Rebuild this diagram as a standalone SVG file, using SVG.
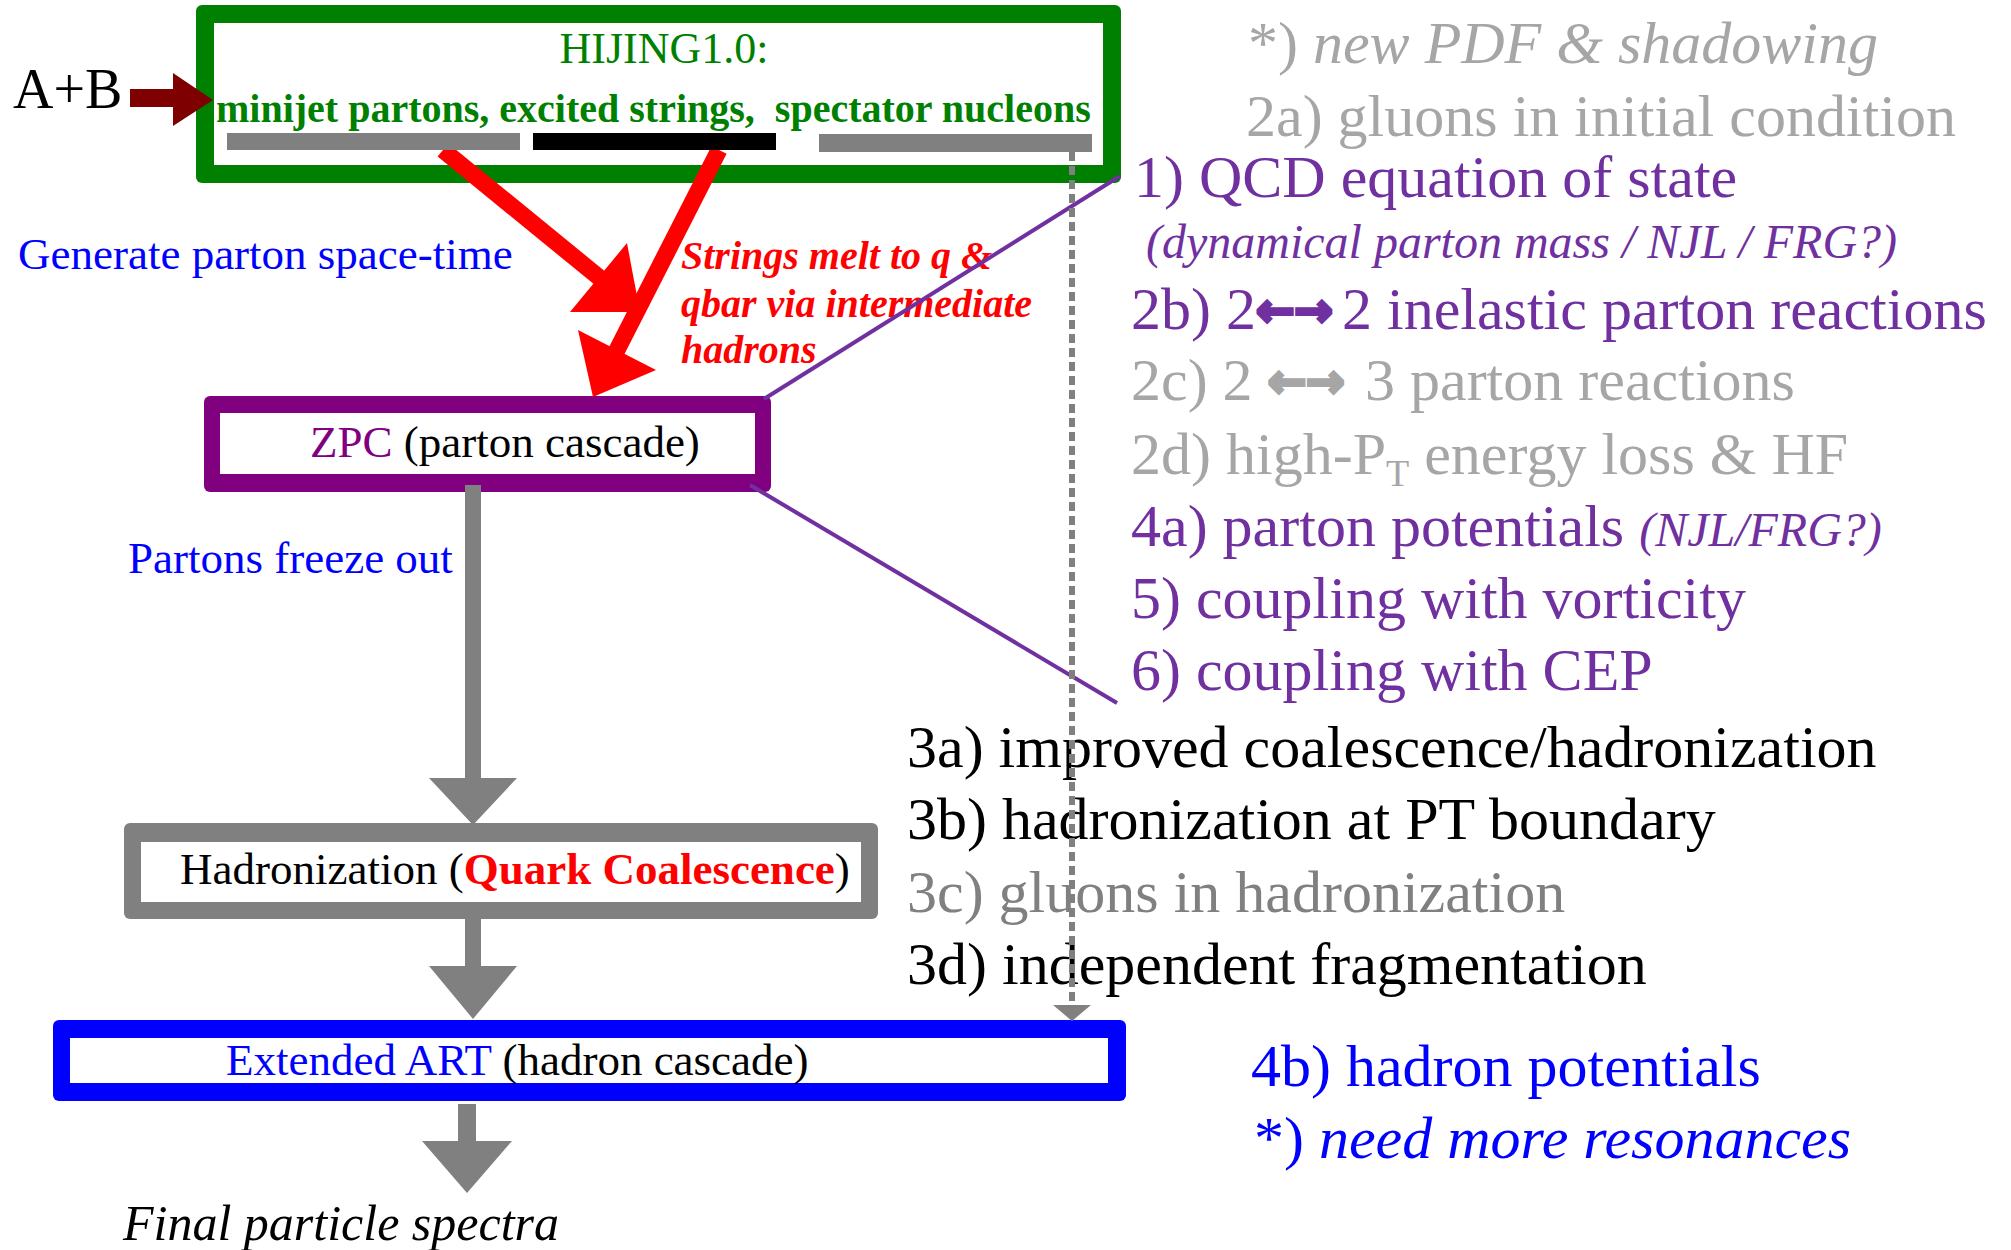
<svg xmlns="http://www.w3.org/2000/svg" width="2011" height="1250" viewBox="0 0 2011 1250">
<style>
text{font-family:"Liberation Serif","Times New Roman",serif;}
.big{font-size:60px;}
.mid{font-size:45px;}
.it{font-style:italic;}
.b{font-weight:bold;}
.lg{fill:#A6A6A6;}
.dg{fill:#808080;}
.pu{fill:#7030A0;}
.bl{fill:#0000FF;}
.rd{fill:#FF0000;}
.k{fill:#000000;}
.gr{fill:#008000;}
.arr{font-family:"DejaVu Sans",sans-serif;font-weight:bold;font-size:46px;font-style:normal;stroke-width:3.5px;stroke-linejoin:miter;}
</style>
<rect width="2011" height="1250" fill="#FFFFFF"/>

<g id="node-input">
  <text x="13" y="108" font-size="56" class="k">A+B</text>
</g>

<g id="node-hijing">
  <rect x="196" y="5" width="925" height="178" rx="6" fill="#008000"/>
  <rect x="214" y="23" width="889" height="142" fill="#FFFFFF"/>
  <text x="664" y="63" font-size="44" text-anchor="middle" class="gr">HIJING1.0:</text>
  <text x="216" y="122" font-size="40" class="b gr" xml:space="preserve">minijet partons, excited strings,  spectator nucleons</text>
</g>

<g id="label-generate">
  <text x="18" y="269" class="mid bl">Generate parton space-time</text>
</g>
<g id="label-strings">
  <text x="681" y="269" font-size="40" class="b it rd">Strings melt to q &amp;</text>
  <text x="681" y="317" font-size="40" class="b it rd">qbar via intermediate</text>
  <text x="681" y="363" font-size="40" class="b it rd">hadrons</text>
</g>

<g id="node-zpc">
  <rect x="204" y="396" width="567" height="96" rx="6" fill="#800080"/>
  <rect x="220" y="413" width="535" height="61" fill="#FFFFFF"/>
  <text x="310" y="457" class="mid k"><tspan fill="#800080">ZPC</tspan> (parton cascade)</text>
</g>

<g id="label-freeze">
  <text x="128" y="573" class="mid bl">Partons freeze out</text>
</g>

<g id="node-hadronization">
  <rect x="124" y="823" width="754" height="96" rx="6" fill="#808080"/>
  <rect x="141" y="842" width="720" height="60" fill="#FFFFFF"/>
  <text x="180" y="884" class="mid k">Hadronization (<tspan class="b rd">Quark Coalescence</tspan>)</text>
</g>

<g id="node-art">
  <rect x="53" y="1020" width="1073" height="81" rx="6" fill="#0000FF"/>
  <rect x="70" y="1038" width="1038" height="45" fill="#FFFFFF"/>
  <text x="226" y="1075" class="mid k"><tspan class="bl">Extended ART</tspan> (hadron cascade)</text>
</g>

<g id="node-final">
  <text x="123" y="1240" font-size="50" class="it k">Final particle spectra</text>
</g>

<g id="list-right">
  <text x="1248" y="63" class="big lg">*) <tspan class="it">new PDF &amp; shadowing</tspan></text>
  <text x="1246" y="136" class="big lg">2a) gluons in initial condition</text>
  <text x="1134" y="197" class="big pu">1) QCD equation of state</text>
  <text x="1146" y="258" font-size="48" class="it pu">(dynamical parton mass / NJL / FRG?)</text>
  <text x="1131" y="329" class="big pu">2b) 2<tspan class="arr" stroke="#7030A0" dy="-3">←→</tspan><tspan x="1342" dy="3">2 inelastic parton reactions</tspan></text>
  <text x="1131" y="400" class="big lg">2c) 2 <tspan class="arr" stroke="#A6A6A6" dy="-3">←→</tspan><tspan x="1365" dy="3">3 parton reactions</tspan></text>
  <text x="1131" y="474" class="big lg">2d) high-P<tspan font-size="38" dy="12">T</tspan><tspan dy="-12"> energy loss &amp; HF</tspan></text>
  <text x="1131" y="546" class="big pu">4a) parton potentials <tspan font-size="48" class="it">(NJL/FRG?)</tspan></text>
  <text x="1131" y="618" class="big pu">5) coupling with vorticity</text>
  <text x="1131" y="690" class="big pu">6) coupling with CEP</text>
  <text x="907" y="767" class="big k">3a) improved coalescence/hadronization</text>
  <text x="907" y="839" class="big k">3b) hadronization at PT boundary</text>
  <text x="907" y="912" class="big dg">3c) gluons in hadronization</text>
  <text x="907" y="984" class="big k">3d) independent fragmentation</text>
  <text x="1251" y="1086" class="big bl">4b) hadron potentials</text>
  <text x="1254" y="1158" class="big bl">*) <tspan class="it">need more resonances</tspan></text>
</g>

<g id="connectors">
  <!-- A+B input arrow -->
  <polygon points="130,89 173,89 173,73 213,100 173,126 173,107 130,107" fill="#7F0000"/>
  <!-- red arrows: partons to ZPC -->
  <line x1="443" y1="150" x2="601" y2="279" stroke="#FF0000" stroke-width="17"/>
  <polygon points="627,243 570,312 640,312" fill="#FF0000"/>
  <line x1="719" y1="150" x2="615" y2="354" stroke="#FF0000" stroke-width="17"/>
  <polygon points="578,330 656,370 593,397" fill="#FF0000"/>
  <!-- colour bars -->
  <rect x="227" y="133" width="293" height="17" fill="#808080"/>
  <rect x="533" y="133" width="243" height="17" fill="#000000"/>
  <rect x="819" y="134" width="273" height="18" fill="#808080"/>
  <!-- purple callout lines -->
  <line x1="1120" y1="176" x2="764" y2="399" stroke="#7030A0" stroke-width="4"/>
  <line x1="750" y1="485" x2="1117" y2="703" stroke="#7030A0" stroke-width="4"/>
  <!-- dashed spectator line -->
  <line x1="1072" y1="152" x2="1072" y2="1006" stroke="#808080" stroke-width="6" stroke-dasharray="9 5"/>
  <polygon points="1053,1005 1091,1005 1072,1021" fill="#808080"/>
  <!-- gray flow arrows -->
  <rect x="465" y="485" width="16" height="294" fill="#808080"/>
  <polygon points="429,778 517,778 473,825" fill="#808080"/>
  <rect x="465" y="918" width="16" height="49" fill="#808080"/>
  <polygon points="429,966 517,966 473,1019" fill="#808080"/>
  <rect x="458" y="1104" width="18" height="38" fill="#808080"/>
  <polygon points="422,1141 512,1141 467,1193" fill="#808080"/>
</g>
</svg>
